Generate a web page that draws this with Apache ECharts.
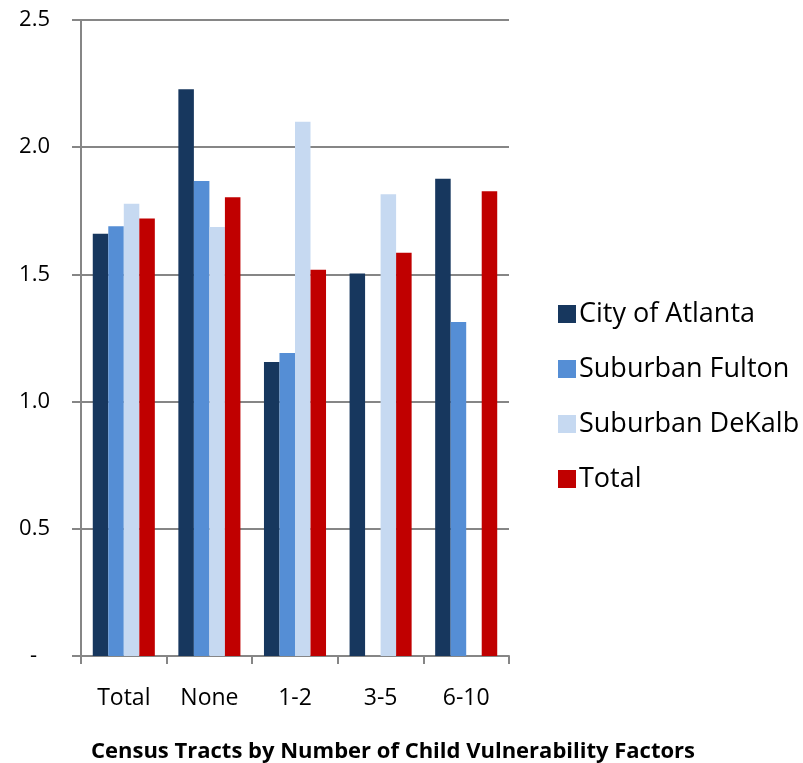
<!DOCTYPE html>
<html>
<head>
<meta charset="utf-8">
<script src="https://cdn.jsdelivr.net/npm/echarts@6/dist/echarts.min.js"></script>
<style>
  html, body { margin: 0; padding: 0; background: #fff; }
  #chart { width: 803px; height: 763px; }
</style>
</head>
<body>
<div id="chart"></div>
<script>
// categories and series
const categories = ['Total', 'None', '1-2', '3-5', '6-10'];
const seriesNames = ['City of Atlanta', 'Suburban Fulton', 'Suburban DeKalb', 'Total'];
const atlanta = [1.66, 2.228, 1.156, 1.504, 1.876];
const fulton = [1.689, 1.867, 1.191, null, 1.313];
const dekalb = [1.778, 1.686, 2.10, 1.815, null];
const total = [1.72, 1.803, 1.518, 1.585, 1.827];
const yTicks = ['-', '0.5', '1.0', '1.5', '2.0', '2.5'];

const colors = ['#17375E', '#558ED5', '#C6D9F1', '#C00000'];
const font = '"Open Sans", sans-serif';

var chartDom = document.getElementById('chart');
var myChart = echarts.init(chartDom);

const mkSeries = (name, data, i) => ({
  name: name,
  type: 'bar',
  data: data,
  barGap: '0%',
  barCategoryGap: '27.5%',
  itemStyle: { color: colors[i] }
});

var option = {
  animation: false,
  color: colors,
  title: {
    text: 'Census Tracts by Number of Child Vulnerability Factors',
    left: 86,
    top: 736,
    textStyle: { fontFamily: font, fontWeight: 'bold', fontSize: 22, color: '#000' }
  },
  legend: {
    orient: 'vertical',
    left: 553,
    top: 295,
    itemWidth: 18,
    itemHeight: 18,
    itemGap: 27,
    icon: 'rect',
    textStyle: { fontFamily: font, fontSize: 27, color: '#000', lineHeight: 28, padding: [0, 0, 0, -2] }
  },
  grid: { left: 81, right: 294, top: 20, bottom: 107 },
  xAxis: {
    type: 'category',
    data: categories,
    axisLine: { lineStyle: { color: '#868686', width: 2 } },
    axisTick: { show: true, length: 8, lineStyle: { color: '#868686', width: 2 } },
    axisLabel: { fontFamily: font, fontSize: 23, color: '#000', margin: 31 }
  },
  yAxis: {
    type: 'value',
    min: 0,
    max: 2.5,
    interval: 0.5,
    axisLine: { show: true, lineStyle: { color: '#868686', width: 2 } },
    axisTick: { show: true, length: 9, lineStyle: { color: '#868686', width: 2 } },
    axisLabel: {
      fontFamily: font, fontSize: 22, color: '#000', margin: 31,
      formatter: (v, i) => i === 0 ? '{dash|' + yTicks[i] + '}' : yTicks[i],
      rich: { dash: { fontFamily: font, fontSize: 22, color: '#000', padding: [0, 13, 0, 0] } }
    },
    splitLine: { lineStyle: { color: '#868686', width: 2 } }
  },
  series: [
    mkSeries(seriesNames[0], atlanta, 0),
    mkSeries(seriesNames[1], fulton, 1),
    mkSeries(seriesNames[2], dekalb, 2),
    mkSeries(seriesNames[3], total, 3)
  ]
};

option && myChart.setOption(option);
</script>
</body>
</html>
